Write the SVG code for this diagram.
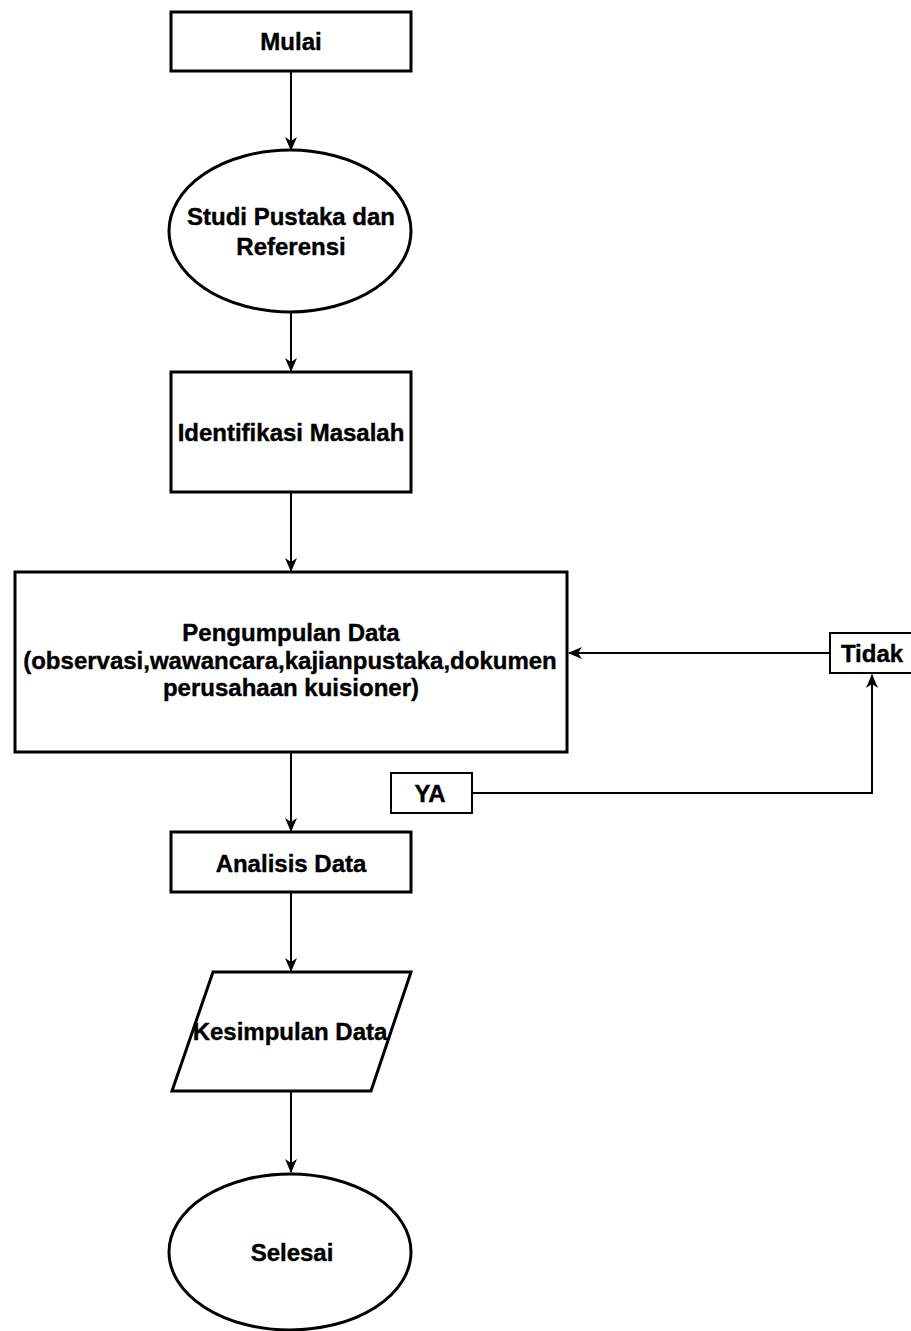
<svg xmlns="http://www.w3.org/2000/svg" width="911" height="1331" viewBox="0 0 911 1331">
<style>
.shape{fill:#fff;stroke:#000;stroke-width:3}
.small{fill:#fff;stroke:#000;stroke-width:2}
.lbl{font-family:"Liberation Sans",Arial,sans-serif;font-weight:bold;font-size:24px;fill:#000;stroke:#000;stroke-width:0.4;text-anchor:middle}
.conn{fill:none;stroke:#000;stroke-width:2}
</style>
<defs>
<marker id="arr" viewBox="0 0 14 12" refX="13" refY="6" markerWidth="14" markerHeight="12" markerUnits="userSpaceOnUse" orient="auto">
<path d="M0,0 L14,6 L0,12 L4,6 Z" fill="#000"/>
</marker>
</defs>
<rect width="911" height="1331" fill="#fff"/>
<g id="connectors">
<line class="conn" x1="291" y1="72" x2="291" y2="150" marker-end="url(#arr)"/>
<line class="conn" x1="291" y1="313" x2="291" y2="371" marker-end="url(#arr)"/>
<line class="conn" x1="291" y1="493" x2="291" y2="571" marker-end="url(#arr)"/>
<line class="conn" x1="291" y1="753" x2="291" y2="831" marker-end="url(#arr)"/>
<line class="conn" x1="291" y1="893" x2="291" y2="971" marker-end="url(#arr)"/>
<line class="conn" x1="291" y1="1092" x2="291" y2="1172" marker-end="url(#arr)"/>
<line class="conn" x1="830" y1="653" x2="569" y2="653" marker-end="url(#arr)"/>
<polyline class="conn" points="472,793 872,793 872,675" marker-end="url(#arr)"/>
</g>
<g id="mulai">
<rect class="shape" x="171" y="12" width="240" height="59"/>
<text class="lbl" x="291" y="50">Mulai</text>
</g>
<g id="studi">
<ellipse class="shape" cx="290" cy="231" rx="121" ry="81"/>
<text class="lbl" x="291" y="225">Studi Pustaka dan</text>
<text class="lbl" x="291" y="255">Referensi</text>
</g>
<g id="identifikasi">
<rect class="shape" x="171" y="372" width="240" height="120"/>
<text class="lbl" x="291" y="441">Identifikasi Masalah</text>
</g>
<g id="pengumpulan">
<rect class="shape" x="15" y="572" width="552" height="180"/>
<text class="lbl" x="291" y="641">Pengumpulan Data</text>
<text class="lbl" x="290" y="669">(observasi,wawancara,kajianpustaka,dokumen</text>
<text class="lbl" x="291" y="696">perusahaan kuisioner)</text>
</g>
<g id="tidak">
<rect class="small" x="830" y="633" width="82" height="40"/>
<text class="lbl" x="872" y="662">Tidak</text>
</g>
<g id="ya">
<rect class="small" x="391" y="773" width="81" height="40"/>
<text class="lbl" x="430" y="802">YA</text>
</g>
<g id="analisis">
<rect class="shape" x="171" y="832" width="240" height="60"/>
<text class="lbl" x="291" y="872">Analisis Data</text>
</g>
<g id="kesimpulan">
<polygon class="shape" points="213,972 411,972 371,1091 172,1091"/>
<text class="lbl" x="290" y="1040">Kesimpulan Data</text>
</g>
<g id="selesai">
<ellipse class="shape" cx="290" cy="1252" rx="121" ry="78"/>
<text class="lbl" x="292" y="1261">Selesai</text>
</g>
</svg>
